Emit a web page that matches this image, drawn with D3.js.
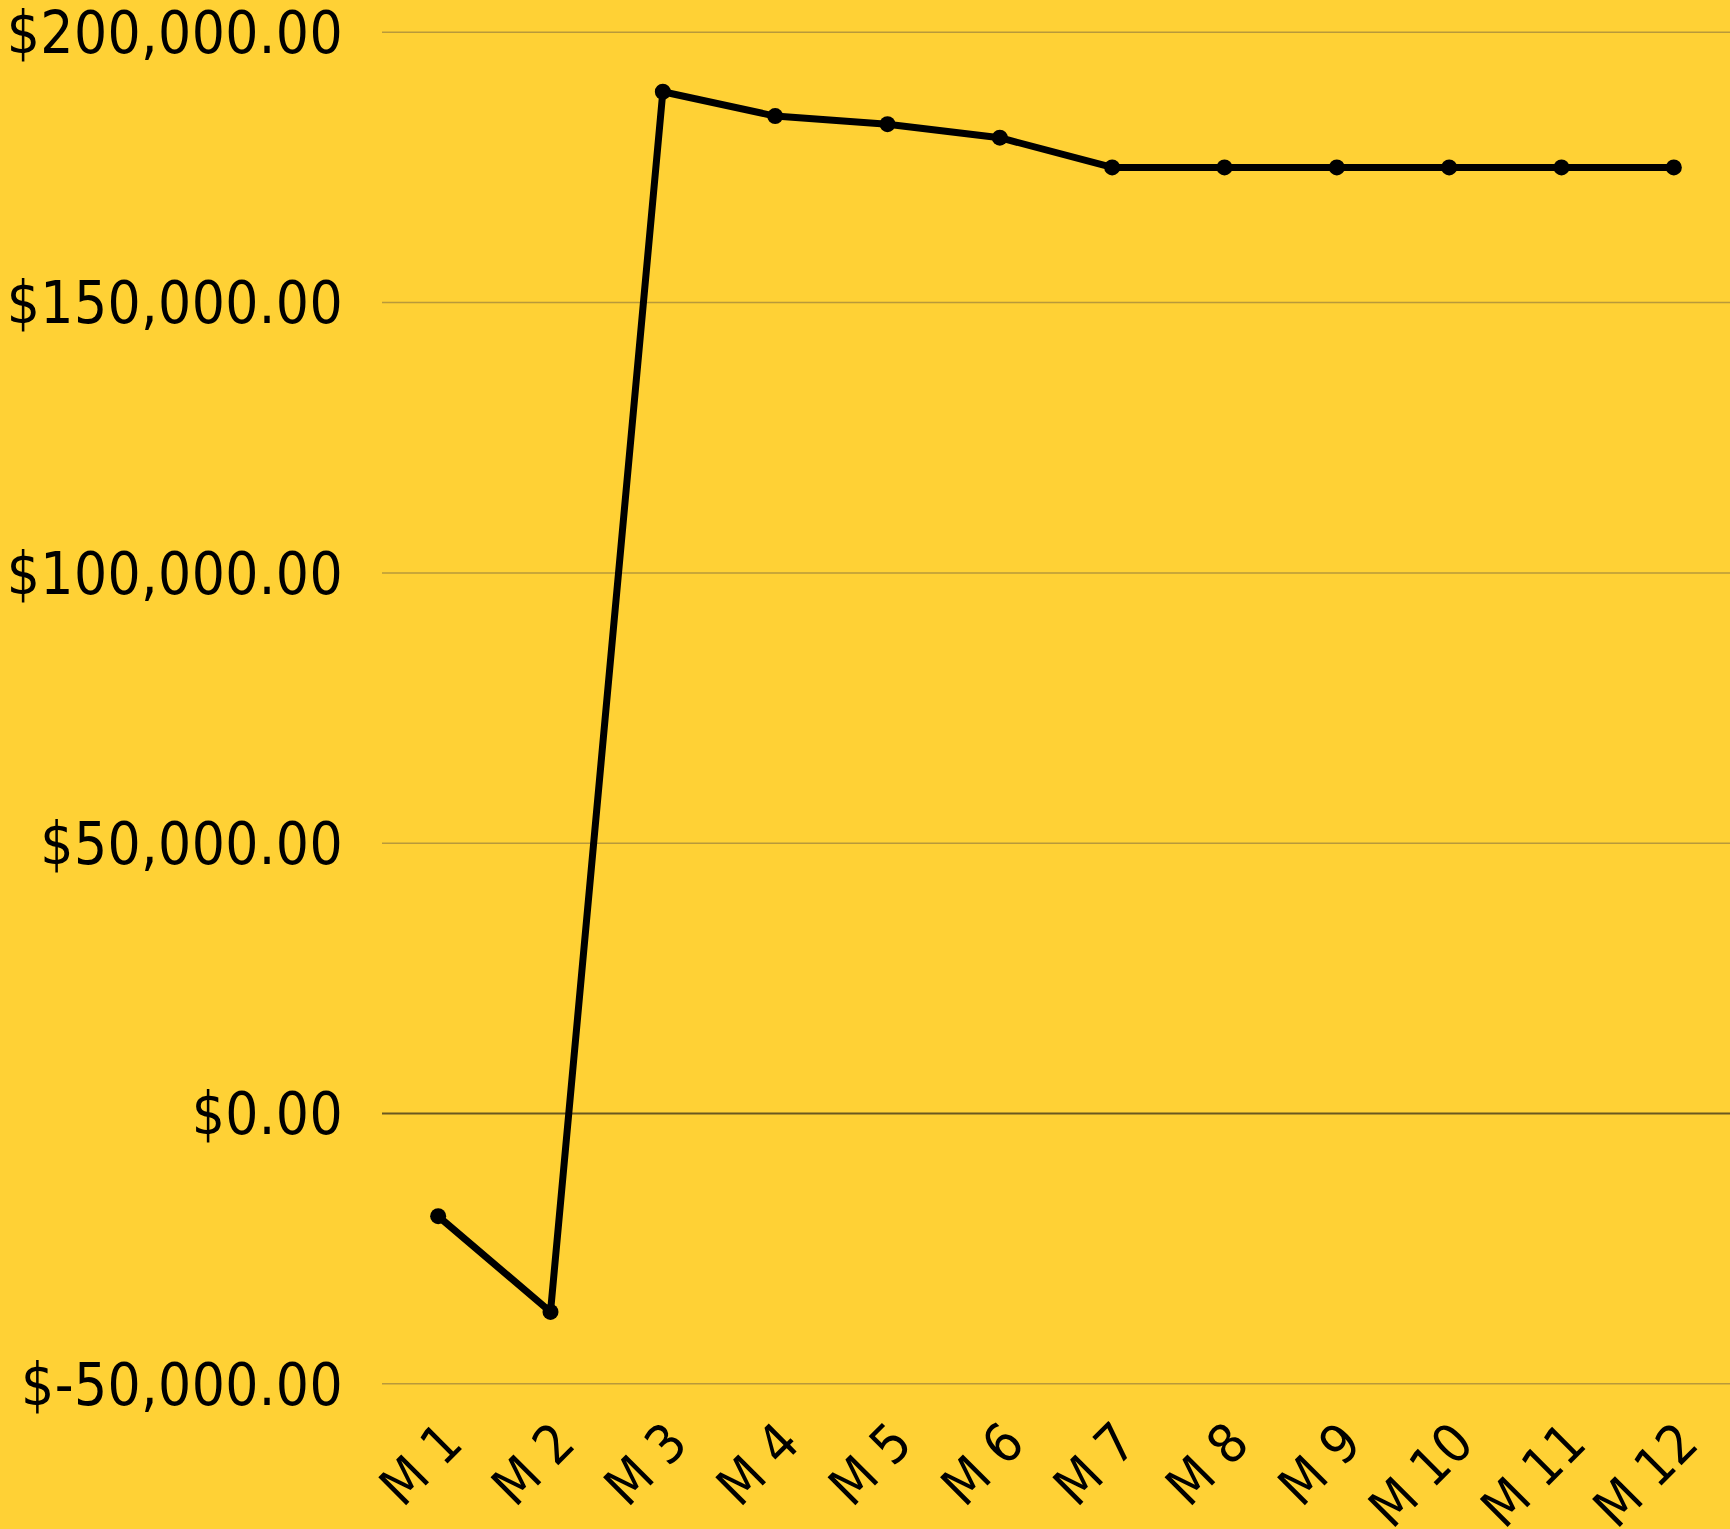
<!DOCTYPE html>
<html lang="en">
<head>
  <meta charset="utf-8" />
  <title>Monthly balance</title>
  <script src="https://d3js.org/d3.v7.min.js"></script>
  <style>
    html, body {
      margin: 0;
      padding: 0;
      background: #FFD135;
    }
    svg {
      display: block;
      font-family: "DejaVu Sans Condensed", "DejaVu Sans", sans-serif;
    }
  </style>
</head>
<body>
<svg id="chart" width="1730" height="1529"></svg>

<script>
    var months = ['M 1', 'M 2', 'M 3', 'M 4', 'M 5', 'M 6', 'M 7', 'M 8', 'M 9', 'M 10', 'M 11', 'M 12'];
    var balance = [-19000, -36700, 189000, 184500, 183000, 180500, 175000, 175000, 175000, 175000, 175000, 175000];
    var yTicks = [-50000, 0, 50000, 100000, 150000, 200000];

    // plot area (note: "top" is reserved on window, so prefixed names)
    var plotLeft = 382, plotRight = 1730, plotTop = 32.3, plotBottom = 1383.8;

    var svg = d3.select('#chart');

    var x = d3.scalePoint().domain(months).range([plotLeft, plotRight]).padding(0.5);
    var y = d3.scaleLinear().domain([-50000, 200000]).range([plotBottom, plotTop]);

    // plain hyphen for negatives, like "$-50,000.00"
    var fmt = d3.formatLocale({ decimal: '.', thousands: ',', grouping: [3], currency: ['$', ''], minus: '-' }).format(',.2f');
    var money = function(d) {
        return '$' + fmt(d);
    };

    // grid lines
    svg.append('g')
        .selectAll('line')
        .data(yTicks)
        .join('line')
        .attr('x1', plotLeft)
        .attr('x2', plotRight)
        .attr('y1', function(d) { return y(d); })
        .attr('y2', function(d) { return y(d); })
        .attr('stroke', function(d) { return d === 0 ? '#6a5820' : '#b9993a'; })
        .attr('stroke-width', function(d) { return d === 0 ? 2 : 1.5; });

    // y labels
    svg.append('g')
        .selectAll('text')
        .data(yTicks)
        .join('text')
        .attr('x', 343)
        .attr('y', function(d) { return y(d); })
        .attr('dy', '0.36em')
        .attr('text-anchor', 'end')
        .attr('font-size', 58)
        .attr('letter-spacing', 0.4)
        .attr('fill', '#000')
        .text(money);

    // x labels, rotated
    svg.append('g')
        .selectAll('text')
        .data(months)
        .join('text')
        .attr('transform', function(d) {
            return 'translate(' + (x(d) + 27) + ',1446) rotate(-45)';
        })
        .attr('text-anchor', 'end')
        .attr('font-size', 54)
        .attr('fill', '#000')
        .text(function(d) { return d; });

    var line = d3.line()
        .x(function(d, i) { return x(months[i]); })
        .y(function(d) { return y(d); });

    svg.append('path')
        .datum(balance)
        .attr('d', line)
        .attr('fill', 'none')
        .attr('stroke', '#000')
        .attr('stroke-width', 7)
        .attr('stroke-linejoin', 'round');

    svg.append('g')
        .selectAll('circle')
        .data(balance)
        .join('circle')
        .attr('cx', function(d, i) { return x(months[i]); })
        .attr('cy', function(d) { return y(d); })
        .attr('r', 8)
        .attr('fill', '#000');
</script>

</body>
</html>
